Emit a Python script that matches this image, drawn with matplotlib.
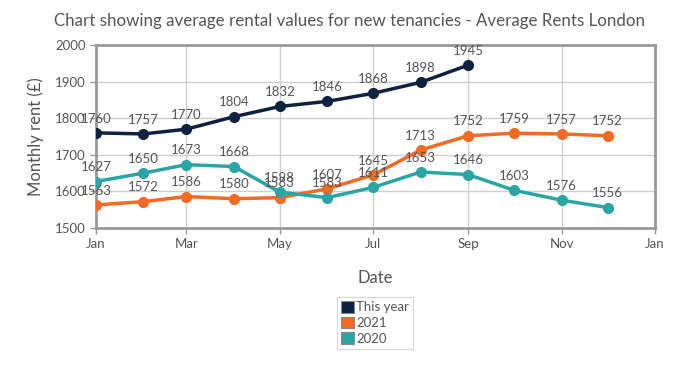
import matplotlib
matplotlib.use("Agg")
import matplotlib.pyplot as plt
import matplotlib.dates as mdates
from matplotlib.patches import Patch
import datetime as dt

months = [dt.date(2022, m, 1) for m in range(1, 13)]
this_year = [1760, 1757, 1770, 1804, 1832, 1846, 1868, 1898, 1945]
y2021 = [1563, 1572, 1586, 1580, 1583, 1607, 1645, 1713, 1752, 1759, 1757, 1752]
y2020 = [1627, 1650, 1673, 1668, 1598, 1583, 1611, 1653, 1646, 1603, 1576, 1556]
series_names = ["This year", "2021", "2020"]
colors = ["#0d2240", "#f26a23", "#2aa5a3"]
yticks = [1500, 1600, 1700, 1800, 1900, 2000]

plt.rcParams['font.family'] = ['Lato', 'DejaVu Sans']
fig = plt.figure(figsize=(6.91, 3.68), dpi=100)
ax = fig.add_axes([96/691, 1-228/368, (655-96)/691, (228-45)/368])

txtcol = "#555555"
for vals, c in zip([this_year, y2021, y2020], colors):
    xs = months[:len(vals)]
    ax.plot(xs, vals, color=c, lw=2.5, marker='o', ms=7, zorder=3)
    for x, v in zip(xs, vals):
        ax.annotate(str(v), (x, v), xytext=(0, 6), textcoords='offset points',
                    ha='center', va='bottom', fontsize=9.5, color=txtcol, zorder=4)

ax.set_xlim(dt.date(2022, 1, 1), dt.date(2023, 1, 1))
ax.set_ylim(1500, 2000)
ax.set_yticks(yticks)
ax.xaxis.set_major_locator(mdates.MonthLocator(bymonth=[1, 3, 5, 7, 9, 11]))
ax.xaxis.set_major_formatter(mdates.DateFormatter('%b'))
ax.grid(True, color="#d0d0d0", lw=1)
ax.set_axisbelow(True)
for s in ax.spines.values():
    s.set_color("#999999")
    s.set_linewidth(2)
ax.tick_params(axis='both', colors="#999999", labelcolor=txtcol, labelsize=9.5, length=4, width=1)
ax.set_xlabel("Date", fontsize=12, color=txtcol, labelpad=14)
ax.set_ylabel("Monthly rent (£)", fontsize=12, color=txtcol, labelpad=8)
fig.suptitle("Chart showing average rental values for new tenancies - Average Rents London",
             fontsize=12.2, color=txtcol, x=350/691, y=1-13/368, va='top')

handles = [Patch(facecolor=c, edgecolor="#888888", lw=0.8) for c in colors]
leg = fig.legend(handles, series_names, loc='upper center',
                 bbox_to_anchor=(375/691, 1-297/368), fontsize=9.5, frameon=True,
                 handlelength=1.0, handleheight=1.0, handletextpad=0.2,
                 labelspacing=0.25, borderpad=0.3, borderaxespad=0, fancybox=False)
leg.get_frame().set_edgecolor("#cccccc")
leg.get_frame().set_linewidth(0.8)
for t in leg.get_texts():
    t.set_color(txtcol)

fig.savefig("out.png", dpi=100)
